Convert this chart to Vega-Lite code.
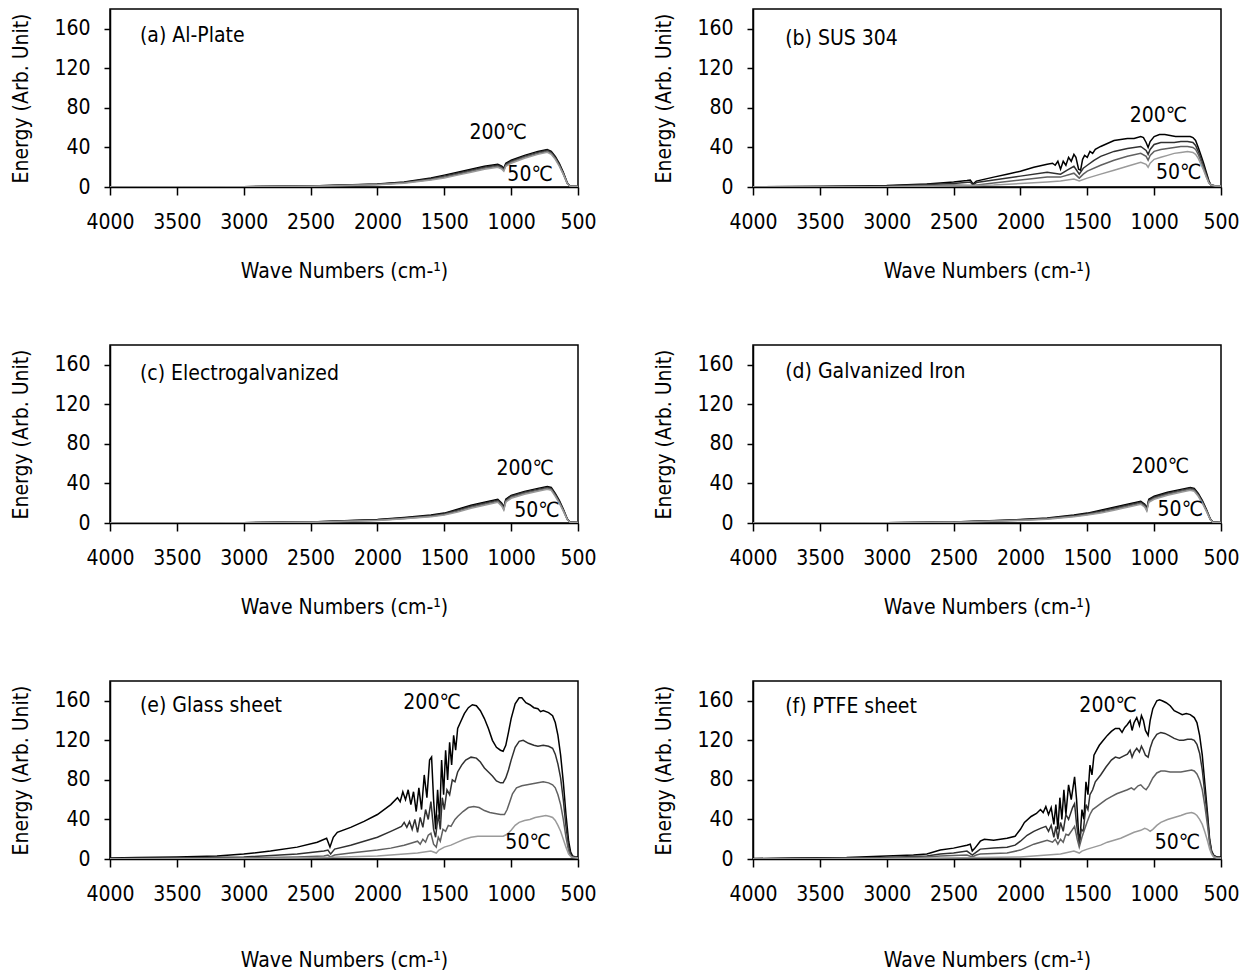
{
"$schema": "https://vega.github.io/schema/vega-lite/v6.json",
"background": "white",
"padding": {"left": 10, "top": 8, "right": 5, "bottom": 5},
"data": {"values": [
{"p":"a","kind":"title","lab":"(a) Al-Plate","w":3776,"e":153},
{"p":"a","kind":"temp","lab":"200℃","w":1098,"e":55},
{"p":"a","kind":"temp","lab":"50℃","w":859,"e":12},
{"p":"b","kind":"title","lab":"(b) SUS 304","w":3759,"e":150},
{"p":"b","kind":"temp","lab":"200℃","w":968,"e":72},
{"p":"b","kind":"temp","lab":"50℃","w":817,"e":14},
{"p":"c","kind":"title","lab":"(c) Electrogalvanized","w":3776,"e":151},
{"p":"c","kind":"temp","lab":"200℃","w":896,"e":55},
{"p":"c","kind":"temp","lab":"50℃","w":807,"e":12},
{"p":"d","kind":"title","lab":"(d) Galvanized Iron","w":3759,"e":153},
{"p":"d","kind":"temp","lab":"200℃","w":953,"e":57},
{"p":"d","kind":"temp","lab":"50℃","w":805,"e":13},
{"p":"e","kind":"title","lab":"(e) Glass sheet","w":3776,"e":155},
{"p":"e","kind":"temp","lab":"200℃","w":1592,"e":158},
{"p":"e","kind":"temp","lab":"50℃","w":874,"e":16},
{"p":"f","kind":"title","lab":"(f) PTFE sheet","w":3759,"e":154},
{"p":"f","kind":"temp","lab":"200℃","w":1345,"e":155},
{"p":"f","kind":"temp","lab":"50℃","w":826,"e":16},

{"p":"a","t":"200","w":4000,"e":0},{"p":"a","t":"200","w":3000,"e":0.3},{"p":"a","t":"200","w":2500,"e":1},{"p":"a","t":"200","w":2000,"e":3},{"p":"a","t":"200","w":1800,"e":5},{"p":"a","t":"200","w":1600,"e":9},{"p":"a","t":"200","w":1500,"e":12},{"p":"a","t":"200","w":1400,"e":15},{"p":"a","t":"200","w":1300,"e":18},{"p":"a","t":"200","w":1200,"e":21},{"p":"a","t":"200","w":1100,"e":23},{"p":"a","t":"200","w":1070,"e":21},{"p":"a","t":"200","w":1055,"e":19},{"p":"a","t":"200","w":1040,"e":24},{"p":"a","t":"200","w":1000,"e":27},{"p":"a","t":"200","w":900,"e":32},{"p":"a","t":"200","w":800,"e":36},{"p":"a","t":"200","w":730,"e":38},{"p":"a","t":"200","w":700,"e":36},{"p":"a","t":"200","w":670,"e":31},{"p":"a","t":"200","w":640,"e":24},{"p":"a","t":"200","w":610,"e":15},{"p":"a","t":"200","w":580,"e":4},{"p":"a","t":"200","w":560,"e":1},{"p":"a","t":"200","w":500,"e":0.5},
{"p":"a","t":"150","w":4000,"e":0},{"p":"a","t":"150","w":3000,"e":0.3},{"p":"a","t":"150","w":2500,"e":0.9},{"p":"a","t":"150","w":2000,"e":2.8},{"p":"a","t":"150","w":1800,"e":4.6},{"p":"a","t":"150","w":1600,"e":8.3},{"p":"a","t":"150","w":1500,"e":11},{"p":"a","t":"150","w":1400,"e":14},{"p":"a","t":"150","w":1300,"e":17},{"p":"a","t":"150","w":1200,"e":20},{"p":"a","t":"150","w":1100,"e":22},{"p":"a","t":"150","w":1070,"e":20},{"p":"a","t":"150","w":1055,"e":18},{"p":"a","t":"150","w":1040,"e":23},{"p":"a","t":"150","w":1000,"e":26},{"p":"a","t":"150","w":900,"e":31},{"p":"a","t":"150","w":800,"e":35},{"p":"a","t":"150","w":730,"e":37},{"p":"a","t":"150","w":700,"e":35},{"p":"a","t":"150","w":670,"e":30},{"p":"a","t":"150","w":640,"e":23},{"p":"a","t":"150","w":610,"e":14},{"p":"a","t":"150","w":580,"e":4},{"p":"a","t":"150","w":560,"e":1},{"p":"a","t":"150","w":500,"e":0.5},
{"p":"a","t":"100","w":4000,"e":0},{"p":"a","t":"100","w":3000,"e":0.2},{"p":"a","t":"100","w":2500,"e":0.8},{"p":"a","t":"100","w":2000,"e":2.5},{"p":"a","t":"100","w":1800,"e":4.2},{"p":"a","t":"100","w":1600,"e":7.6},{"p":"a","t":"100","w":1500,"e":10},{"p":"a","t":"100","w":1400,"e":13},{"p":"a","t":"100","w":1300,"e":16},{"p":"a","t":"100","w":1200,"e":19},{"p":"a","t":"100","w":1100,"e":21},{"p":"a","t":"100","w":1070,"e":19},{"p":"a","t":"100","w":1055,"e":17},{"p":"a","t":"100","w":1040,"e":22},{"p":"a","t":"100","w":1000,"e":25},{"p":"a","t":"100","w":900,"e":30},{"p":"a","t":"100","w":800,"e":34},{"p":"a","t":"100","w":730,"e":36},{"p":"a","t":"100","w":700,"e":34},{"p":"a","t":"100","w":670,"e":29},{"p":"a","t":"100","w":640,"e":22},{"p":"a","t":"100","w":610,"e":13},{"p":"a","t":"100","w":580,"e":3.5},{"p":"a","t":"100","w":560,"e":1},{"p":"a","t":"100","w":500,"e":0.4},
{"p":"a","t":"50","w":4000,"e":0},{"p":"a","t":"50","w":3000,"e":0.2},{"p":"a","t":"50","w":2500,"e":0.7},{"p":"a","t":"50","w":2000,"e":2.2},{"p":"a","t":"50","w":1800,"e":3.8},{"p":"a","t":"50","w":1600,"e":7},{"p":"a","t":"50","w":1500,"e":9.2},{"p":"a","t":"50","w":1400,"e":12},{"p":"a","t":"50","w":1300,"e":15},{"p":"a","t":"50","w":1200,"e":18},{"p":"a","t":"50","w":1100,"e":20},{"p":"a","t":"50","w":1070,"e":18},{"p":"a","t":"50","w":1055,"e":16},{"p":"a","t":"50","w":1040,"e":21},{"p":"a","t":"50","w":1000,"e":24},{"p":"a","t":"50","w":900,"e":29},{"p":"a","t":"50","w":800,"e":33},{"p":"a","t":"50","w":730,"e":35},{"p":"a","t":"50","w":700,"e":33},{"p":"a","t":"50","w":670,"e":28},{"p":"a","t":"50","w":640,"e":21},{"p":"a","t":"50","w":610,"e":13},{"p":"a","t":"50","w":580,"e":3.5},{"p":"a","t":"50","w":560,"e":0.9},{"p":"a","t":"50","w":500,"e":0.4},

{"p":"c","t":"200","w":4000,"e":0},{"p":"c","t":"200","w":3000,"e":0.3},{"p":"c","t":"200","w":2500,"e":1},{"p":"c","t":"200","w":2000,"e":3.5},{"p":"c","t":"200","w":1800,"e":5.5},{"p":"c","t":"200","w":1600,"e":8},{"p":"c","t":"200","w":1500,"e":10},{"p":"c","t":"200","w":1400,"e":14},{"p":"c","t":"200","w":1300,"e":18},{"p":"c","t":"200","w":1200,"e":21},{"p":"c","t":"200","w":1100,"e":24},{"p":"c","t":"200","w":1070,"e":20},{"p":"c","t":"200","w":1055,"e":16},{"p":"c","t":"200","w":1040,"e":24},{"p":"c","t":"200","w":1000,"e":28},{"p":"c","t":"200","w":900,"e":32},{"p":"c","t":"200","w":800,"e":35},{"p":"c","t":"200","w":730,"e":37},{"p":"c","t":"200","w":700,"e":36},{"p":"c","t":"200","w":670,"e":30},{"p":"c","t":"200","w":640,"e":23},{"p":"c","t":"200","w":610,"e":14},{"p":"c","t":"200","w":580,"e":4},{"p":"c","t":"200","w":560,"e":1},{"p":"c","t":"200","w":500,"e":0.5},
{"p":"c","t":"150","w":4000,"e":0},{"p":"c","t":"150","w":3000,"e":0.3},{"p":"c","t":"150","w":2500,"e":0.9},{"p":"c","t":"150","w":2000,"e":3.2},{"p":"c","t":"150","w":1800,"e":5},{"p":"c","t":"150","w":1600,"e":7.4},{"p":"c","t":"150","w":1500,"e":9.3},{"p":"c","t":"150","w":1400,"e":13},{"p":"c","t":"150","w":1300,"e":17},{"p":"c","t":"150","w":1200,"e":20},{"p":"c","t":"150","w":1100,"e":23},{"p":"c","t":"150","w":1070,"e":19},{"p":"c","t":"150","w":1055,"e":15},{"p":"c","t":"150","w":1040,"e":23},{"p":"c","t":"150","w":1000,"e":27},{"p":"c","t":"150","w":900,"e":31},{"p":"c","t":"150","w":800,"e":34},{"p":"c","t":"150","w":730,"e":36},{"p":"c","t":"150","w":700,"e":35},{"p":"c","t":"150","w":670,"e":29},{"p":"c","t":"150","w":640,"e":22},{"p":"c","t":"150","w":610,"e":13},{"p":"c","t":"150","w":580,"e":4},{"p":"c","t":"150","w":560,"e":1},{"p":"c","t":"150","w":500,"e":0.5},
{"p":"c","t":"100","w":4000,"e":0},{"p":"c","t":"100","w":3000,"e":0.2},{"p":"c","t":"100","w":2500,"e":0.8},{"p":"c","t":"100","w":2000,"e":2.9},{"p":"c","t":"100","w":1800,"e":4.6},{"p":"c","t":"100","w":1600,"e":6.8},{"p":"c","t":"100","w":1500,"e":8.6},{"p":"c","t":"100","w":1400,"e":12},{"p":"c","t":"100","w":1300,"e":16},{"p":"c","t":"100","w":1200,"e":19},{"p":"c","t":"100","w":1100,"e":22},{"p":"c","t":"100","w":1070,"e":18},{"p":"c","t":"100","w":1055,"e":14},{"p":"c","t":"100","w":1040,"e":22},{"p":"c","t":"100","w":1000,"e":26},{"p":"c","t":"100","w":900,"e":30},{"p":"c","t":"100","w":800,"e":33},{"p":"c","t":"100","w":730,"e":35},{"p":"c","t":"100","w":700,"e":34},{"p":"c","t":"100","w":670,"e":28},{"p":"c","t":"100","w":640,"e":21},{"p":"c","t":"100","w":610,"e":13},{"p":"c","t":"100","w":580,"e":3.5},{"p":"c","t":"100","w":560,"e":0.9},{"p":"c","t":"100","w":500,"e":0.4},
{"p":"c","t":"50","w":4000,"e":0},{"p":"c","t":"50","w":3000,"e":0.2},{"p":"c","t":"50","w":2500,"e":0.7},{"p":"c","t":"50","w":2000,"e":2.6},{"p":"c","t":"50","w":1800,"e":4.2},{"p":"c","t":"50","w":1600,"e":6.2},{"p":"c","t":"50","w":1500,"e":8},{"p":"c","t":"50","w":1400,"e":11},{"p":"c","t":"50","w":1300,"e":15},{"p":"c","t":"50","w":1200,"e":18},{"p":"c","t":"50","w":1100,"e":21},{"p":"c","t":"50","w":1070,"e":17},{"p":"c","t":"50","w":1055,"e":13},{"p":"c","t":"50","w":1040,"e":21},{"p":"c","t":"50","w":1000,"e":25},{"p":"c","t":"50","w":900,"e":29},{"p":"c","t":"50","w":800,"e":32},{"p":"c","t":"50","w":730,"e":34},{"p":"c","t":"50","w":700,"e":33},{"p":"c","t":"50","w":670,"e":27},{"p":"c","t":"50","w":640,"e":20},{"p":"c","t":"50","w":610,"e":12},{"p":"c","t":"50","w":580,"e":3.5},{"p":"c","t":"50","w":560,"e":0.8},{"p":"c","t":"50","w":500,"e":0.4},

{"p":"d","t":"200","w":4000,"e":0},{"p":"d","t":"200","w":3000,"e":0.3},{"p":"d","t":"200","w":2500,"e":1},{"p":"d","t":"200","w":2000,"e":3.5},{"p":"d","t":"200","w":1800,"e":5},{"p":"d","t":"200","w":1600,"e":8},{"p":"d","t":"200","w":1500,"e":10},{"p":"d","t":"200","w":1400,"e":13},{"p":"d","t":"200","w":1300,"e":16},{"p":"d","t":"200","w":1200,"e":19},{"p":"d","t":"200","w":1100,"e":22},{"p":"d","t":"200","w":1070,"e":19},{"p":"d","t":"200","w":1055,"e":15},{"p":"d","t":"200","w":1040,"e":24},{"p":"d","t":"200","w":1000,"e":27},{"p":"d","t":"200","w":900,"e":31},{"p":"d","t":"200","w":800,"e":34},{"p":"d","t":"200","w":730,"e":36},{"p":"d","t":"200","w":700,"e":35},{"p":"d","t":"200","w":670,"e":30},{"p":"d","t":"200","w":640,"e":23},{"p":"d","t":"200","w":610,"e":14},{"p":"d","t":"200","w":580,"e":4},{"p":"d","t":"200","w":560,"e":1},{"p":"d","t":"200","w":500,"e":0.5},
{"p":"d","t":"150","w":4000,"e":0},{"p":"d","t":"150","w":3000,"e":0.3},{"p":"d","t":"150","w":2500,"e":0.9},{"p":"d","t":"150","w":2000,"e":3.2},{"p":"d","t":"150","w":1800,"e":4.6},{"p":"d","t":"150","w":1600,"e":7.4},{"p":"d","t":"150","w":1500,"e":9.3},{"p":"d","t":"150","w":1400,"e":12},{"p":"d","t":"150","w":1300,"e":15},{"p":"d","t":"150","w":1200,"e":18},{"p":"d","t":"150","w":1100,"e":21},{"p":"d","t":"150","w":1070,"e":18},{"p":"d","t":"150","w":1055,"e":14},{"p":"d","t":"150","w":1040,"e":23},{"p":"d","t":"150","w":1000,"e":26},{"p":"d","t":"150","w":900,"e":30},{"p":"d","t":"150","w":800,"e":33},{"p":"d","t":"150","w":730,"e":35},{"p":"d","t":"150","w":700,"e":34},{"p":"d","t":"150","w":670,"e":29},{"p":"d","t":"150","w":640,"e":22},{"p":"d","t":"150","w":610,"e":13},{"p":"d","t":"150","w":580,"e":4},{"p":"d","t":"150","w":560,"e":1},{"p":"d","t":"150","w":500,"e":0.5},
{"p":"d","t":"100","w":4000,"e":0},{"p":"d","t":"100","w":3000,"e":0.2},{"p":"d","t":"100","w":2500,"e":0.8},{"p":"d","t":"100","w":2000,"e":2.9},{"p":"d","t":"100","w":1800,"e":4.2},{"p":"d","t":"100","w":1600,"e":6.8},{"p":"d","t":"100","w":1500,"e":8.6},{"p":"d","t":"100","w":1400,"e":11},{"p":"d","t":"100","w":1300,"e":14},{"p":"d","t":"100","w":1200,"e":17},{"p":"d","t":"100","w":1100,"e":20},{"p":"d","t":"100","w":1070,"e":17},{"p":"d","t":"100","w":1055,"e":13},{"p":"d","t":"100","w":1040,"e":22},{"p":"d","t":"100","w":1000,"e":25},{"p":"d","t":"100","w":900,"e":29},{"p":"d","t":"100","w":800,"e":32},{"p":"d","t":"100","w":730,"e":34},{"p":"d","t":"100","w":700,"e":33},{"p":"d","t":"100","w":670,"e":28},{"p":"d","t":"100","w":640,"e":21},{"p":"d","t":"100","w":610,"e":13},{"p":"d","t":"100","w":580,"e":3.5},{"p":"d","t":"100","w":560,"e":0.9},{"p":"d","t":"100","w":500,"e":0.4},
{"p":"d","t":"50","w":4000,"e":0},{"p":"d","t":"50","w":3000,"e":0.2},{"p":"d","t":"50","w":2500,"e":0.7},{"p":"d","t":"50","w":2000,"e":2.6},{"p":"d","t":"50","w":1800,"e":3.8},{"p":"d","t":"50","w":1600,"e":6.2},{"p":"d","t":"50","w":1500,"e":8},{"p":"d","t":"50","w":1400,"e":10},{"p":"d","t":"50","w":1300,"e":13},{"p":"d","t":"50","w":1200,"e":16},{"p":"d","t":"50","w":1100,"e":19},{"p":"d","t":"50","w":1070,"e":16},{"p":"d","t":"50","w":1055,"e":12},{"p":"d","t":"50","w":1040,"e":21},{"p":"d","t":"50","w":1000,"e":24},{"p":"d","t":"50","w":900,"e":28},{"p":"d","t":"50","w":800,"e":31},{"p":"d","t":"50","w":730,"e":33},{"p":"d","t":"50","w":700,"e":32},{"p":"d","t":"50","w":670,"e":27},{"p":"d","t":"50","w":640,"e":20},{"p":"d","t":"50","w":610,"e":12},{"p":"d","t":"50","w":580,"e":3.5},{"p":"d","t":"50","w":560,"e":0.8},{"p":"d","t":"50","w":500,"e":0.4},

{"p":"b","t":"200","w":4000,"e":0.2},{"p":"b","t":"200","w":3500,"e":0.5},{"p":"b","t":"200","w":3000,"e":1.5},{"p":"b","t":"200","w":2700,"e":3},{"p":"b","t":"200","w":2500,"e":5},{"p":"b","t":"200","w":2400,"e":6.5},{"p":"b","t":"200","w":2375,"e":7},{"p":"b","t":"200","w":2355,"e":3},{"p":"b","t":"200","w":2330,"e":6},{"p":"b","t":"200","w":2200,"e":10},{"p":"b","t":"200","w":2100,"e":13},{"p":"b","t":"200","w":2000,"e":16},{"p":"b","t":"200","w":1900,"e":20},{"p":"b","t":"200","w":1800,"e":23},{"p":"b","t":"200","w":1760,"e":24},{"p":"b","t":"200","w":1740,"e":22},{"p":"b","t":"200","w":1720,"e":26},{"p":"b","t":"200","w":1700,"e":18},{"p":"b","t":"200","w":1680,"e":26},{"p":"b","t":"200","w":1660,"e":22},{"p":"b","t":"200","w":1640,"e":30},{"p":"b","t":"200","w":1620,"e":26},{"p":"b","t":"200","w":1600,"e":33},{"p":"b","t":"200","w":1585,"e":30},{"p":"b","t":"200","w":1565,"e":18},{"p":"b","t":"200","w":1550,"e":17},{"p":"b","t":"200","w":1535,"e":28},{"p":"b","t":"200","w":1520,"e":32},{"p":"b","t":"200","w":1500,"e":30},{"p":"b","t":"200","w":1480,"e":36},{"p":"b","t":"200","w":1460,"e":34},{"p":"b","t":"200","w":1440,"e":38},{"p":"b","t":"200","w":1400,"e":41},{"p":"b","t":"200","w":1350,"e":44},{"p":"b","t":"200","w":1300,"e":47},{"p":"b","t":"200","w":1250,"e":48},{"p":"b","t":"200","w":1200,"e":49},{"p":"b","t":"200","w":1150,"e":49},{"p":"b","t":"200","w":1100,"e":51},{"p":"b","t":"200","w":1080,"e":50},{"p":"b","t":"200","w":1060,"e":45},{"p":"b","t":"200","w":1045,"e":40},{"p":"b","t":"200","w":1030,"e":46},{"p":"b","t":"200","w":1000,"e":51},{"p":"b","t":"200","w":960,"e":53},{"p":"b","t":"200","w":920,"e":53},{"p":"b","t":"200","w":880,"e":52},{"p":"b","t":"200","w":840,"e":51},{"p":"b","t":"200","w":800,"e":51},{"p":"b","t":"200","w":760,"e":51},{"p":"b","t":"200","w":730,"e":51},{"p":"b","t":"200","w":710,"e":50},{"p":"b","t":"200","w":690,"e":47},{"p":"b","t":"200","w":670,"e":40},{"p":"b","t":"200","w":650,"e":32},{"p":"b","t":"200","w":630,"e":24},{"p":"b","t":"200","w":610,"e":15},{"p":"b","t":"200","w":590,"e":6},{"p":"b","t":"200","w":575,"e":2},{"p":"b","t":"200","w":540,"e":1},{"p":"b","t":"200","w":500,"e":1},
{"p":"b","t":"150","w":4000,"e":0.1},{"p":"b","t":"150","w":3000,"e":1},{"p":"b","t":"150","w":2500,"e":3.5},{"p":"b","t":"150","w":2375,"e":5},{"p":"b","t":"150","w":2355,"e":2},{"p":"b","t":"150","w":2330,"e":4.5},{"p":"b","t":"150","w":2200,"e":7},{"p":"b","t":"150","w":2000,"e":11},{"p":"b","t":"150","w":1800,"e":15},{"p":"b","t":"150","w":1700,"e":13},{"p":"b","t":"150","w":1650,"e":17},{"p":"b","t":"150","w":1600,"e":21},{"p":"b","t":"150","w":1560,"e":13},{"p":"b","t":"150","w":1530,"e":19},{"p":"b","t":"150","w":1500,"e":22},{"p":"b","t":"150","w":1450,"e":27},{"p":"b","t":"150","w":1400,"e":31},{"p":"b","t":"150","w":1300,"e":36},{"p":"b","t":"150","w":1200,"e":39},{"p":"b","t":"150","w":1100,"e":41},{"p":"b","t":"150","w":1060,"e":37},{"p":"b","t":"150","w":1045,"e":33},{"p":"b","t":"150","w":1030,"e":38},{"p":"b","t":"150","w":1000,"e":43},{"p":"b","t":"150","w":950,"e":45},{"p":"b","t":"150","w":900,"e":45},{"p":"b","t":"150","w":850,"e":45},{"p":"b","t":"150","w":800,"e":46},{"p":"b","t":"150","w":750,"e":46},{"p":"b","t":"150","w":710,"e":45},{"p":"b","t":"150","w":690,"e":42},{"p":"b","t":"150","w":670,"e":36},{"p":"b","t":"150","w":650,"e":29},{"p":"b","t":"150","w":630,"e":21},{"p":"b","t":"150","w":610,"e":13},{"p":"b","t":"150","w":590,"e":5},{"p":"b","t":"150","w":575,"e":2},{"p":"b","t":"150","w":540,"e":1},{"p":"b","t":"150","w":500,"e":1},
{"p":"b","t":"100","w":4000,"e":0.1},{"p":"b","t":"100","w":3000,"e":0.5},{"p":"b","t":"100","w":2500,"e":2},{"p":"b","t":"100","w":2355,"e":1.5},{"p":"b","t":"100","w":2200,"e":4},{"p":"b","t":"100","w":2000,"e":7},{"p":"b","t":"100","w":1800,"e":10},{"p":"b","t":"100","w":1700,"e":10},{"p":"b","t":"100","w":1600,"e":14},{"p":"b","t":"100","w":1560,"e":9},{"p":"b","t":"100","w":1530,"e":13},{"p":"b","t":"100","w":1500,"e":16},{"p":"b","t":"100","w":1400,"e":22},{"p":"b","t":"100","w":1300,"e":27},{"p":"b","t":"100","w":1200,"e":31},{"p":"b","t":"100","w":1100,"e":34},{"p":"b","t":"100","w":1060,"e":31},{"p":"b","t":"100","w":1045,"e":27},{"p":"b","t":"100","w":1030,"e":32},{"p":"b","t":"100","w":1000,"e":36},{"p":"b","t":"100","w":950,"e":38},{"p":"b","t":"100","w":900,"e":39},{"p":"b","t":"100","w":850,"e":40},{"p":"b","t":"100","w":800,"e":41},{"p":"b","t":"100","w":750,"e":41},{"p":"b","t":"100","w":710,"e":40},{"p":"b","t":"100","w":690,"e":38},{"p":"b","t":"100","w":670,"e":33},{"p":"b","t":"100","w":650,"e":26},{"p":"b","t":"100","w":630,"e":19},{"p":"b","t":"100","w":610,"e":11},{"p":"b","t":"100","w":590,"e":4},{"p":"b","t":"100","w":575,"e":2},{"p":"b","t":"100","w":540,"e":1},{"p":"b","t":"100","w":500,"e":1},
{"p":"b","t":"50","w":4000,"e":0},{"p":"b","t":"50","w":3000,"e":0.3},{"p":"b","t":"50","w":2500,"e":1},{"p":"b","t":"50","w":2200,"e":2},{"p":"b","t":"50","w":2000,"e":3.5},{"p":"b","t":"50","w":1800,"e":5},{"p":"b","t":"50","w":1700,"e":6},{"p":"b","t":"50","w":1600,"e":8},{"p":"b","t":"50","w":1560,"e":6},{"p":"b","t":"50","w":1500,"e":9},{"p":"b","t":"50","w":1400,"e":13},{"p":"b","t":"50","w":1300,"e":17},{"p":"b","t":"50","w":1200,"e":21},{"p":"b","t":"50","w":1100,"e":25},{"p":"b","t":"50","w":1060,"e":23},{"p":"b","t":"50","w":1045,"e":20},{"p":"b","t":"50","w":1030,"e":24},{"p":"b","t":"50","w":1000,"e":28},{"p":"b","t":"50","w":950,"e":30},{"p":"b","t":"50","w":900,"e":32},{"p":"b","t":"50","w":850,"e":34},{"p":"b","t":"50","w":800,"e":35},{"p":"b","t":"50","w":750,"e":36},{"p":"b","t":"50","w":710,"e":35},{"p":"b","t":"50","w":690,"e":33},{"p":"b","t":"50","w":670,"e":29},{"p":"b","t":"50","w":650,"e":23},{"p":"b","t":"50","w":630,"e":17},{"p":"b","t":"50","w":610,"e":10},{"p":"b","t":"50","w":590,"e":4},{"p":"b","t":"50","w":575,"e":2},{"p":"b","t":"50","w":540,"e":1},{"p":"b","t":"50","w":500,"e":1},

{"p":"e","t":"200","w":4000,"e":1},{"p":"e","t":"200","w":3800,"e":1.5},{"p":"e","t":"200","w":3500,"e":2},{"p":"e","t":"200","w":3200,"e":3},{"p":"e","t":"200","w":3000,"e":5},{"p":"e","t":"200","w":2800,"e":8},{"p":"e","t":"200","w":2600,"e":12},{"p":"e","t":"200","w":2450,"e":17},{"p":"e","t":"200","w":2380,"e":21},{"p":"e","t":"200","w":2355,"e":12},{"p":"e","t":"200","w":2330,"e":22},{"p":"e","t":"200","w":2300,"e":27},{"p":"e","t":"200","w":2200,"e":32},{"p":"e","t":"200","w":2100,"e":38},{"p":"e","t":"200","w":2000,"e":45},{"p":"e","t":"200","w":1900,"e":55},{"p":"e","t":"200","w":1850,"e":62},{"p":"e","t":"200","w":1830,"e":58},{"p":"e","t":"200","w":1810,"e":68},{"p":"e","t":"200","w":1790,"e":60},{"p":"e","t":"200","w":1770,"e":70},{"p":"e","t":"200","w":1750,"e":55},{"p":"e","t":"200","w":1730,"e":68},{"p":"e","t":"200","w":1710,"e":48},{"p":"e","t":"200","w":1690,"e":72},{"p":"e","t":"200","w":1670,"e":50},{"p":"e","t":"200","w":1650,"e":85},{"p":"e","t":"200","w":1630,"e":62},{"p":"e","t":"200","w":1610,"e":100},{"p":"e","t":"200","w":1595,"e":103},{"p":"e","t":"200","w":1580,"e":60},{"p":"e","t":"200","w":1565,"e":30},{"p":"e","t":"200","w":1550,"e":70},{"p":"e","t":"200","w":1535,"e":40},{"p":"e","t":"200","w":1520,"e":100},{"p":"e","t":"200","w":1505,"e":65},{"p":"e","t":"200","w":1490,"e":110},{"p":"e","t":"200","w":1475,"e":80},{"p":"e","t":"200","w":1460,"e":118},{"p":"e","t":"200","w":1445,"e":95},{"p":"e","t":"200","w":1430,"e":125},{"p":"e","t":"200","w":1415,"e":110},{"p":"e","t":"200","w":1400,"e":132},{"p":"e","t":"200","w":1380,"e":138},{"p":"e","t":"200","w":1350,"e":147},{"p":"e","t":"200","w":1320,"e":153},{"p":"e","t":"200","w":1290,"e":156},{"p":"e","t":"200","w":1260,"e":155},{"p":"e","t":"200","w":1230,"e":150},{"p":"e","t":"200","w":1200,"e":142},{"p":"e","t":"200","w":1170,"e":132},{"p":"e","t":"200","w":1140,"e":120},{"p":"e","t":"200","w":1110,"e":113},{"p":"e","t":"200","w":1080,"e":110},{"p":"e","t":"200","w":1060,"e":109},{"p":"e","t":"200","w":1040,"e":115},{"p":"e","t":"200","w":1020,"e":128},{"p":"e","t":"200","w":1000,"e":142},{"p":"e","t":"200","w":970,"e":157},{"p":"e","t":"200","w":940,"e":163},{"p":"e","t":"200","w":920,"e":163},{"p":"e","t":"200","w":890,"e":158},{"p":"e","t":"200","w":860,"e":156},{"p":"e","t":"200","w":830,"e":153},{"p":"e","t":"200","w":800,"e":152},{"p":"e","t":"200","w":780,"e":149},{"p":"e","t":"200","w":760,"e":150},{"p":"e","t":"200","w":720,"e":148},{"p":"e","t":"200","w":690,"e":145},{"p":"e","t":"200","w":670,"e":138},{"p":"e","t":"200","w":650,"e":125},{"p":"e","t":"200","w":630,"e":105},{"p":"e","t":"200","w":610,"e":78},{"p":"e","t":"200","w":590,"e":45},{"p":"e","t":"200","w":570,"e":18},{"p":"e","t":"200","w":555,"e":7},{"p":"e","t":"200","w":540,"e":3},{"p":"e","t":"200","w":520,"e":2},{"p":"e","t":"200","w":500,"e":2},
{"p":"e","t":"150","w":4000,"e":0.5},{"p":"e","t":"150","w":3500,"e":1},{"p":"e","t":"150","w":3000,"e":2},{"p":"e","t":"150","w":2600,"e":5},{"p":"e","t":"150","w":2400,"e":8},{"p":"e","t":"150","w":2370,"e":9},{"p":"e","t":"150","w":2350,"e":5},{"p":"e","t":"150","w":2320,"e":10},{"p":"e","t":"150","w":2200,"e":14},{"p":"e","t":"150","w":2100,"e":18},{"p":"e","t":"150","w":2000,"e":22},{"p":"e","t":"150","w":1900,"e":28},{"p":"e","t":"150","w":1820,"e":33},{"p":"e","t":"150","w":1800,"e":37},{"p":"e","t":"150","w":1780,"e":32},{"p":"e","t":"150","w":1760,"e":38},{"p":"e","t":"150","w":1740,"e":30},{"p":"e","t":"150","w":1720,"e":40},{"p":"e","t":"150","w":1700,"e":27},{"p":"e","t":"150","w":1680,"e":42},{"p":"e","t":"150","w":1660,"e":32},{"p":"e","t":"150","w":1640,"e":50},{"p":"e","t":"150","w":1620,"e":40},{"p":"e","t":"150","w":1600,"e":58},{"p":"e","t":"150","w":1580,"e":30},{"p":"e","t":"150","w":1565,"e":22},{"p":"e","t":"150","w":1545,"e":45},{"p":"e","t":"150","w":1530,"e":30},{"p":"e","t":"150","w":1515,"e":62},{"p":"e","t":"150","w":1500,"e":50},{"p":"e","t":"150","w":1480,"e":70},{"p":"e","t":"150","w":1460,"e":65},{"p":"e","t":"150","w":1440,"e":80},{"p":"e","t":"150","w":1420,"e":78},{"p":"e","t":"150","w":1400,"e":88},{"p":"e","t":"150","w":1370,"e":95},{"p":"e","t":"150","w":1340,"e":100},{"p":"e","t":"150","w":1300,"e":103},{"p":"e","t":"150","w":1260,"e":102},{"p":"e","t":"150","w":1230,"e":98},{"p":"e","t":"150","w":1200,"e":92},{"p":"e","t":"150","w":1170,"e":88},{"p":"e","t":"150","w":1140,"e":84},{"p":"e","t":"150","w":1110,"e":79},{"p":"e","t":"150","w":1080,"e":77},{"p":"e","t":"150","w":1060,"e":77},{"p":"e","t":"150","w":1040,"e":82},{"p":"e","t":"150","w":1020,"e":90},{"p":"e","t":"150","w":1000,"e":100},{"p":"e","t":"150","w":970,"e":113},{"p":"e","t":"150","w":940,"e":119},{"p":"e","t":"150","w":910,"e":120},{"p":"e","t":"150","w":870,"e":117},{"p":"e","t":"150","w":830,"e":115},{"p":"e","t":"150","w":800,"e":114},{"p":"e","t":"150","w":760,"e":115},{"p":"e","t":"150","w":720,"e":114},{"p":"e","t":"150","w":690,"e":112},{"p":"e","t":"150","w":670,"e":106},{"p":"e","t":"150","w":650,"e":96},{"p":"e","t":"150","w":630,"e":82},{"p":"e","t":"150","w":610,"e":60},{"p":"e","t":"150","w":590,"e":33},{"p":"e","t":"150","w":570,"e":12},{"p":"e","t":"150","w":555,"e":5},{"p":"e","t":"150","w":540,"e":2},{"p":"e","t":"150","w":500,"e":1},
{"p":"e","t":"100","w":4000,"e":0.3},{"p":"e","t":"100","w":3500,"e":0.5},{"p":"e","t":"100","w":3000,"e":1},{"p":"e","t":"100","w":2600,"e":2},{"p":"e","t":"100","w":2400,"e":3},{"p":"e","t":"100","w":2370,"e":4},{"p":"e","t":"100","w":2350,"e":2},{"p":"e","t":"100","w":2320,"e":4},{"p":"e","t":"100","w":2200,"e":6},{"p":"e","t":"100","w":2000,"e":9},{"p":"e","t":"100","w":1900,"e":11},{"p":"e","t":"100","w":1800,"e":14},{"p":"e","t":"100","w":1750,"e":16},{"p":"e","t":"100","w":1700,"e":18},{"p":"e","t":"100","w":1680,"e":15},{"p":"e","t":"100","w":1660,"e":20},{"p":"e","t":"100","w":1640,"e":17},{"p":"e","t":"100","w":1620,"e":24},{"p":"e","t":"100","w":1600,"e":26},{"p":"e","t":"100","w":1580,"e":15},{"p":"e","t":"100","w":1560,"e":12},{"p":"e","t":"100","w":1545,"e":22},{"p":"e","t":"100","w":1530,"e":18},{"p":"e","t":"100","w":1510,"e":30},{"p":"e","t":"100","w":1490,"e":28},{"p":"e","t":"100","w":1470,"e":34},{"p":"e","t":"100","w":1450,"e":33},{"p":"e","t":"100","w":1420,"e":40},{"p":"e","t":"100","w":1400,"e":43},{"p":"e","t":"100","w":1360,"e":48},{"p":"e","t":"100","w":1320,"e":52},{"p":"e","t":"100","w":1280,"e":53},{"p":"e","t":"100","w":1240,"e":52},{"p":"e","t":"100","w":1200,"e":49},{"p":"e","t":"100","w":1160,"e":47},{"p":"e","t":"100","w":1120,"e":46},{"p":"e","t":"100","w":1080,"e":45},{"p":"e","t":"100","w":1050,"e":45},{"p":"e","t":"100","w":1030,"e":50},{"p":"e","t":"100","w":1010,"e":58},{"p":"e","t":"100","w":990,"e":66},{"p":"e","t":"100","w":960,"e":72},{"p":"e","t":"100","w":920,"e":74},{"p":"e","t":"100","w":880,"e":75},{"p":"e","t":"100","w":840,"e":76},{"p":"e","t":"100","w":800,"e":77},{"p":"e","t":"100","w":760,"e":78},{"p":"e","t":"100","w":720,"e":77},{"p":"e","t":"100","w":690,"e":75},{"p":"e","t":"100","w":670,"e":72},{"p":"e","t":"100","w":650,"e":65},{"p":"e","t":"100","w":630,"e":55},{"p":"e","t":"100","w":610,"e":40},{"p":"e","t":"100","w":590,"e":22},{"p":"e","t":"100","w":570,"e":8},{"p":"e","t":"100","w":555,"e":3},{"p":"e","t":"100","w":540,"e":1.5},{"p":"e","t":"100","w":500,"e":1},
{"p":"e","t":"50","w":4000,"e":0.2},{"p":"e","t":"50","w":3000,"e":0.5},{"p":"e","t":"50","w":2600,"e":1},{"p":"e","t":"50","w":2400,"e":1.5},{"p":"e","t":"50","w":2000,"e":3},{"p":"e","t":"50","w":1800,"e":5},{"p":"e","t":"50","w":1700,"e":6},{"p":"e","t":"50","w":1600,"e":8},{"p":"e","t":"50","w":1560,"e":6},{"p":"e","t":"50","w":1540,"e":9},{"p":"e","t":"50","w":1500,"e":12},{"p":"e","t":"50","w":1450,"e":14},{"p":"e","t":"50","w":1400,"e":17},{"p":"e","t":"50","w":1350,"e":20},{"p":"e","t":"50","w":1300,"e":22},{"p":"e","t":"50","w":1250,"e":23},{"p":"e","t":"50","w":1200,"e":23},{"p":"e","t":"50","w":1150,"e":23},{"p":"e","t":"50","w":1100,"e":23},{"p":"e","t":"50","w":1060,"e":23},{"p":"e","t":"50","w":1030,"e":25},{"p":"e","t":"50","w":1000,"e":29},{"p":"e","t":"50","w":970,"e":34},{"p":"e","t":"50","w":940,"e":37},{"p":"e","t":"50","w":900,"e":39},{"p":"e","t":"50","w":860,"e":40},{"p":"e","t":"50","w":820,"e":42},{"p":"e","t":"50","w":780,"e":43},{"p":"e","t":"50","w":740,"e":44},{"p":"e","t":"50","w":710,"e":43},{"p":"e","t":"50","w":690,"e":42},{"p":"e","t":"50","w":670,"e":39},{"p":"e","t":"50","w":650,"e":34},{"p":"e","t":"50","w":630,"e":28},{"p":"e","t":"50","w":610,"e":20},{"p":"e","t":"50","w":590,"e":12},{"p":"e","t":"50","w":570,"e":5},{"p":"e","t":"50","w":550,"e":2},{"p":"e","t":"50","w":500,"e":1},

{"p":"f","t":"200","w":4000,"e":0.5},{"p":"f","t":"200","w":3700,"e":1},{"p":"f","t":"200","w":3300,"e":1.5},{"p":"f","t":"200","w":3000,"e":3},{"p":"f","t":"200","w":2800,"e":4},{"p":"f","t":"200","w":2700,"e":5},{"p":"f","t":"200","w":2650,"e":7},{"p":"f","t":"200","w":2600,"e":9},{"p":"f","t":"200","w":2500,"e":11},{"p":"f","t":"200","w":2400,"e":14},{"p":"f","t":"200","w":2375,"e":15},{"p":"f","t":"200","w":2360,"e":8},{"p":"f","t":"200","w":2340,"e":11},{"p":"f","t":"200","w":2300,"e":18},{"p":"f","t":"200","w":2270,"e":20},{"p":"f","t":"200","w":2200,"e":19},{"p":"f","t":"200","w":2100,"e":21},{"p":"f","t":"200","w":2040,"e":23},{"p":"f","t":"200","w":2000,"e":30},{"p":"f","t":"200","w":1970,"e":37},{"p":"f","t":"200","w":1920,"e":43},{"p":"f","t":"200","w":1880,"e":46},{"p":"f","t":"200","w":1850,"e":50},{"p":"f","t":"200","w":1830,"e":47},{"p":"f","t":"200","w":1810,"e":53},{"p":"f","t":"200","w":1790,"e":45},{"p":"f","t":"200","w":1770,"e":52},{"p":"f","t":"200","w":1750,"e":35},{"p":"f","t":"200","w":1735,"e":55},{"p":"f","t":"200","w":1720,"e":30},{"p":"f","t":"200","w":1705,"e":62},{"p":"f","t":"200","w":1690,"e":40},{"p":"f","t":"200","w":1675,"e":70},{"p":"f","t":"200","w":1660,"e":45},{"p":"f","t":"200","w":1640,"e":75},{"p":"f","t":"200","w":1620,"e":60},{"p":"f","t":"200","w":1595,"e":83},{"p":"f","t":"200","w":1580,"e":60},{"p":"f","t":"200","w":1565,"e":25},{"p":"f","t":"200","w":1555,"e":19},{"p":"f","t":"200","w":1540,"e":50},{"p":"f","t":"200","w":1525,"e":40},{"p":"f","t":"200","w":1510,"e":78},{"p":"f","t":"200","w":1495,"e":65},{"p":"f","t":"200","w":1480,"e":95},{"p":"f","t":"200","w":1465,"e":85},{"p":"f","t":"200","w":1450,"e":105},{"p":"f","t":"200","w":1430,"e":110},{"p":"f","t":"200","w":1410,"e":115},{"p":"f","t":"200","w":1380,"e":120},{"p":"f","t":"200","w":1350,"e":125},{"p":"f","t":"200","w":1320,"e":129},{"p":"f","t":"200","w":1290,"e":132},{"p":"f","t":"200","w":1260,"e":132},{"p":"f","t":"200","w":1240,"e":128},{"p":"f","t":"200","w":1220,"e":133},{"p":"f","t":"200","w":1200,"e":136},{"p":"f","t":"200","w":1180,"e":140},{"p":"f","t":"200","w":1165,"e":130},{"p":"f","t":"200","w":1150,"e":138},{"p":"f","t":"200","w":1130,"e":143},{"p":"f","t":"200","w":1110,"e":135},{"p":"f","t":"200","w":1095,"e":145},{"p":"f","t":"200","w":1080,"e":140},{"p":"f","t":"200","w":1065,"e":130},{"p":"f","t":"200","w":1045,"e":125},{"p":"f","t":"200","w":1030,"e":140},{"p":"f","t":"200","w":1010,"e":152},{"p":"f","t":"200","w":980,"e":160},{"p":"f","t":"200","w":960,"e":161},{"p":"f","t":"200","w":940,"e":160},{"p":"f","t":"200","w":910,"e":158},{"p":"f","t":"200","w":880,"e":155},{"p":"f","t":"200","w":850,"e":150},{"p":"f","t":"200","w":820,"e":148},{"p":"f","t":"200","w":790,"e":146},{"p":"f","t":"200","w":760,"e":147},{"p":"f","t":"200","w":730,"e":146},{"p":"f","t":"200","w":700,"e":143},{"p":"f","t":"200","w":680,"e":138},{"p":"f","t":"200","w":660,"e":125},{"p":"f","t":"200","w":640,"e":105},{"p":"f","t":"200","w":620,"e":75},{"p":"f","t":"200","w":600,"e":45},{"p":"f","t":"200","w":585,"e":20},{"p":"f","t":"200","w":570,"e":8},{"p":"f","t":"200","w":555,"e":4},{"p":"f","t":"200","w":530,"e":2},{"p":"f","t":"200","w":500,"e":2},
{"p":"f","t":"150","w":4000,"e":0.3},{"p":"f","t":"150","w":3500,"e":0.7},{"p":"f","t":"150","w":3000,"e":1.5},{"p":"f","t":"150","w":2700,"e":3},{"p":"f","t":"150","w":2600,"e":5},{"p":"f","t":"150","w":2500,"e":6},{"p":"f","t":"150","w":2400,"e":8},{"p":"f","t":"150","w":2360,"e":4},{"p":"f","t":"150","w":2330,"e":7},{"p":"f","t":"150","w":2300,"e":10},{"p":"f","t":"150","w":2200,"e":11},{"p":"f","t":"150","w":2100,"e":12},{"p":"f","t":"150","w":2040,"e":14},{"p":"f","t":"150","w":2000,"e":18},{"p":"f","t":"150","w":1950,"e":24},{"p":"f","t":"150","w":1900,"e":28},{"p":"f","t":"150","w":1850,"e":31},{"p":"f","t":"150","w":1810,"e":33},{"p":"f","t":"150","w":1790,"e":28},{"p":"f","t":"150","w":1770,"e":34},{"p":"f","t":"150","w":1750,"e":22},{"p":"f","t":"150","w":1735,"e":33},{"p":"f","t":"150","w":1720,"e":20},{"p":"f","t":"150","w":1700,"e":37},{"p":"f","t":"150","w":1680,"e":28},{"p":"f","t":"150","w":1660,"e":45},{"p":"f","t":"150","w":1640,"e":40},{"p":"f","t":"150","w":1610,"e":52},{"p":"f","t":"150","w":1595,"e":56},{"p":"f","t":"150","w":1580,"e":35},{"p":"f","t":"150","w":1560,"e":15},{"p":"f","t":"150","w":1545,"e":30},{"p":"f","t":"150","w":1530,"e":28},{"p":"f","t":"150","w":1510,"e":55},{"p":"f","t":"150","w":1495,"e":50},{"p":"f","t":"150","w":1480,"e":65},{"p":"f","t":"150","w":1460,"e":70},{"p":"f","t":"150","w":1440,"e":78},{"p":"f","t":"150","w":1400,"e":85},{"p":"f","t":"150","w":1360,"e":93},{"p":"f","t":"150","w":1320,"e":100},{"p":"f","t":"150","w":1290,"e":103},{"p":"f","t":"150","w":1260,"e":102},{"p":"f","t":"150","w":1230,"e":104},{"p":"f","t":"150","w":1200,"e":106},{"p":"f","t":"150","w":1180,"e":110},{"p":"f","t":"150","w":1165,"e":103},{"p":"f","t":"150","w":1150,"e":108},{"p":"f","t":"150","w":1130,"e":112},{"p":"f","t":"150","w":1110,"e":108},{"p":"f","t":"150","w":1095,"e":114},{"p":"f","t":"150","w":1080,"e":110},{"p":"f","t":"150","w":1065,"e":105},{"p":"f","t":"150","w":1045,"e":103},{"p":"f","t":"150","w":1030,"e":112},{"p":"f","t":"150","w":1010,"e":120},{"p":"f","t":"150","w":980,"e":126},{"p":"f","t":"150","w":950,"e":128},{"p":"f","t":"150","w":920,"e":127},{"p":"f","t":"150","w":890,"e":125},{"p":"f","t":"150","w":850,"e":122},{"p":"f","t":"150","w":810,"e":120},{"p":"f","t":"150","w":780,"e":120},{"p":"f","t":"150","w":750,"e":121},{"p":"f","t":"150","w":720,"e":121},{"p":"f","t":"150","w":700,"e":120},{"p":"f","t":"150","w":680,"e":116},{"p":"f","t":"150","w":660,"e":107},{"p":"f","t":"150","w":640,"e":90},{"p":"f","t":"150","w":620,"e":65},{"p":"f","t":"150","w":600,"e":40},{"p":"f","t":"150","w":585,"e":18},{"p":"f","t":"150","w":570,"e":7},{"p":"f","t":"150","w":555,"e":3},{"p":"f","t":"150","w":530,"e":1.5},{"p":"f","t":"150","w":500,"e":1},
{"p":"f","t":"100","w":4000,"e":0.2},{"p":"f","t":"100","w":3500,"e":0.4},{"p":"f","t":"100","w":3000,"e":1},{"p":"f","t":"100","w":2700,"e":2},{"p":"f","t":"100","w":2600,"e":3},{"p":"f","t":"100","w":2400,"e":4},{"p":"f","t":"100","w":2360,"e":2},{"p":"f","t":"100","w":2330,"e":4},{"p":"f","t":"100","w":2300,"e":5},{"p":"f","t":"100","w":2100,"e":6},{"p":"f","t":"100","w":2000,"e":9},{"p":"f","t":"100","w":1950,"e":12},{"p":"f","t":"100","w":1900,"e":15},{"p":"f","t":"100","w":1850,"e":17},{"p":"f","t":"100","w":1800,"e":19},{"p":"f","t":"100","w":1760,"e":17},{"p":"f","t":"100","w":1740,"e":20},{"p":"f","t":"100","w":1720,"e":15},{"p":"f","t":"100","w":1700,"e":20},{"p":"f","t":"100","w":1680,"e":17},{"p":"f","t":"100","w":1660,"e":25},{"p":"f","t":"100","w":1640,"e":24},{"p":"f","t":"100","w":1610,"e":30},{"p":"f","t":"100","w":1595,"e":33},{"p":"f","t":"100","w":1575,"e":20},{"p":"f","t":"100","w":1560,"e":12},{"p":"f","t":"100","w":1540,"e":22},{"p":"f","t":"100","w":1520,"e":30},{"p":"f","t":"100","w":1500,"e":38},{"p":"f","t":"100","w":1480,"e":45},{"p":"f","t":"100","w":1460,"e":50},{"p":"f","t":"100","w":1440,"e":52},{"p":"f","t":"100","w":1400,"e":56},{"p":"f","t":"100","w":1360,"e":60},{"p":"f","t":"100","w":1320,"e":63},{"p":"f","t":"100","w":1280,"e":66},{"p":"f","t":"100","w":1240,"e":68},{"p":"f","t":"100","w":1200,"e":70},{"p":"f","t":"100","w":1170,"e":72},{"p":"f","t":"100","w":1150,"e":70},{"p":"f","t":"100","w":1120,"e":74},{"p":"f","t":"100","w":1100,"e":75},{"p":"f","t":"100","w":1080,"e":72},{"p":"f","t":"100","w":1060,"e":70},{"p":"f","t":"100","w":1040,"e":74},{"p":"f","t":"100","w":1010,"e":82},{"p":"f","t":"100","w":980,"e":87},{"p":"f","t":"100","w":950,"e":89},{"p":"f","t":"100","w":920,"e":89},{"p":"f","t":"100","w":880,"e":88},{"p":"f","t":"100","w":840,"e":88},{"p":"f","t":"100","w":800,"e":88},{"p":"f","t":"100","w":760,"e":89},{"p":"f","t":"100","w":720,"e":90},{"p":"f","t":"100","w":700,"e":89},{"p":"f","t":"100","w":680,"e":86},{"p":"f","t":"100","w":660,"e":80},{"p":"f","t":"100","w":640,"e":70},{"p":"f","t":"100","w":620,"e":53},{"p":"f","t":"100","w":600,"e":33},{"p":"f","t":"100","w":585,"e":16},{"p":"f","t":"100","w":570,"e":6},{"p":"f","t":"100","w":555,"e":3},{"p":"f","t":"100","w":530,"e":1},{"p":"f","t":"100","w":500,"e":1},
{"p":"f","t":"50","w":4000,"e":0.1},{"p":"f","t":"50","w":3000,"e":0.4},{"p":"f","t":"50","w":2600,"e":1},{"p":"f","t":"50","w":2300,"e":1.5},{"p":"f","t":"50","w":2000,"e":2},{"p":"f","t":"50","w":1900,"e":3},{"p":"f","t":"50","w":1800,"e":4},{"p":"f","t":"50","w":1700,"e":5},{"p":"f","t":"50","w":1600,"e":8},{"p":"f","t":"50","w":1560,"e":6},{"p":"f","t":"50","w":1540,"e":8},{"p":"f","t":"50","w":1500,"e":10},{"p":"f","t":"50","w":1450,"e":12},{"p":"f","t":"50","w":1400,"e":14},{"p":"f","t":"50","w":1350,"e":17},{"p":"f","t":"50","w":1300,"e":19},{"p":"f","t":"50","w":1250,"e":21},{"p":"f","t":"50","w":1200,"e":24},{"p":"f","t":"50","w":1150,"e":27},{"p":"f","t":"50","w":1100,"e":29},{"p":"f","t":"50","w":1070,"e":31},{"p":"f","t":"50","w":1050,"e":30},{"p":"f","t":"50","w":1030,"e":28},{"p":"f","t":"50","w":1010,"e":30},{"p":"f","t":"50","w":980,"e":34},{"p":"f","t":"50","w":950,"e":37},{"p":"f","t":"50","w":900,"e":40},{"p":"f","t":"50","w":850,"e":42},{"p":"f","t":"50","w":800,"e":44},{"p":"f","t":"50","w":760,"e":46},{"p":"f","t":"50","w":720,"e":47},{"p":"f","t":"50","w":700,"e":46},{"p":"f","t":"50","w":680,"e":44},{"p":"f","t":"50","w":660,"e":40},{"p":"f","t":"50","w":640,"e":35},{"p":"f","t":"50","w":620,"e":27},{"p":"f","t":"50","w":600,"e":18},{"p":"f","t":"50","w":585,"e":10},{"p":"f","t":"50","w":570,"e":5},{"p":"f","t":"50","w":555,"e":2},{"p":"f","t":"50","w":530,"e":1},{"p":"f","t":"50","w":500,"e":1}
]},
"columns": 2,
"spacing": {"row": 158, "column": 175},
"bounds": "flush",
"concat": [
 {"width": 468, "height": 178, "transform": [{"filter": "datum.p == 'a'"}],
  "encoding": {"x": {"field": "w", "type": "quantitative", "scale": {"domain": [500, 4000], "reverse": true, "nice": false, "zero": false}, "axis": {"values": [4000, 3500, 3000, 2500, 2000, 1500, 1000, 500], "title": "Wave Numbers (cm-¹)", "format": "d"}},
               "y": {"field": "e", "type": "quantitative", "scale": {"domain": [0, 180], "nice": false}, "axis": {"values": [0, 40, 80, 120, 160], "title": "Energy (Arb. Unit)"}}},
  "layer": [
   {"transform": [{"filter": "datum.t != null"}], "mark": {"type": "line", "strokeWidth": 1.5, "clip": true}, "encoding": {"color": {"field": "t", "type": "nominal", "scale": {"domain": ["200", "150", "100", "50"], "range": ["#000000", "#303030", "#606060", "#9a9a9a"]}, "legend": null}}},
   {"transform": [{"filter": "datum.kind == 'title'"}], "mark": {"type": "text", "align": "left", "baseline": "middle"}, "encoding": {"text": {"field": "lab"}}},
   {"transform": [{"filter": "datum.kind == 'temp'"}], "mark": {"type": "text", "align": "center", "baseline": "middle"}, "encoding": {"text": {"field": "lab"}}}
  ]},
 {"width": 468, "height": 178, "transform": [{"filter": "datum.p == 'b'"}],
  "encoding": {"x": {"field": "w", "type": "quantitative", "scale": {"domain": [500, 4000], "reverse": true, "nice": false, "zero": false}, "axis": {"values": [4000, 3500, 3000, 2500, 2000, 1500, 1000, 500], "title": "Wave Numbers (cm-¹)", "format": "d"}},
               "y": {"field": "e", "type": "quantitative", "scale": {"domain": [0, 180], "nice": false}, "axis": {"values": [0, 40, 80, 120, 160], "title": "Energy (Arb. Unit)"}}},
  "layer": [
   {"transform": [{"filter": "datum.t != null"}], "mark": {"type": "line", "strokeWidth": 1.5, "clip": true}, "encoding": {"color": {"field": "t", "type": "nominal", "scale": {"domain": ["200", "150", "100", "50"], "range": ["#000000", "#303030", "#606060", "#9a9a9a"]}, "legend": null}}},
   {"transform": [{"filter": "datum.kind == 'title'"}], "mark": {"type": "text", "align": "left", "baseline": "middle"}, "encoding": {"text": {"field": "lab"}}},
   {"transform": [{"filter": "datum.kind == 'temp'"}], "mark": {"type": "text", "align": "center", "baseline": "middle"}, "encoding": {"text": {"field": "lab"}}}
  ]},
 {"width": 468, "height": 178, "transform": [{"filter": "datum.p == 'c'"}],
  "encoding": {"x": {"field": "w", "type": "quantitative", "scale": {"domain": [500, 4000], "reverse": true, "nice": false, "zero": false}, "axis": {"values": [4000, 3500, 3000, 2500, 2000, 1500, 1000, 500], "title": "Wave Numbers (cm-¹)", "format": "d"}},
               "y": {"field": "e", "type": "quantitative", "scale": {"domain": [0, 180], "nice": false}, "axis": {"values": [0, 40, 80, 120, 160], "title": "Energy (Arb. Unit)"}}},
  "layer": [
   {"transform": [{"filter": "datum.t != null"}], "mark": {"type": "line", "strokeWidth": 1.5, "clip": true}, "encoding": {"color": {"field": "t", "type": "nominal", "scale": {"domain": ["200", "150", "100", "50"], "range": ["#000000", "#303030", "#606060", "#9a9a9a"]}, "legend": null}}},
   {"transform": [{"filter": "datum.kind == 'title'"}], "mark": {"type": "text", "align": "left", "baseline": "middle"}, "encoding": {"text": {"field": "lab"}}},
   {"transform": [{"filter": "datum.kind == 'temp'"}], "mark": {"type": "text", "align": "center", "baseline": "middle"}, "encoding": {"text": {"field": "lab"}}}
  ]},
 {"width": 468, "height": 178, "transform": [{"filter": "datum.p == 'd'"}],
  "encoding": {"x": {"field": "w", "type": "quantitative", "scale": {"domain": [500, 4000], "reverse": true, "nice": false, "zero": false}, "axis": {"values": [4000, 3500, 3000, 2500, 2000, 1500, 1000, 500], "title": "Wave Numbers (cm-¹)", "format": "d"}},
               "y": {"field": "e", "type": "quantitative", "scale": {"domain": [0, 180], "nice": false}, "axis": {"values": [0, 40, 80, 120, 160], "title": "Energy (Arb. Unit)"}}},
  "layer": [
   {"transform": [{"filter": "datum.t != null"}], "mark": {"type": "line", "strokeWidth": 1.5, "clip": true}, "encoding": {"color": {"field": "t", "type": "nominal", "scale": {"domain": ["200", "150", "100", "50"], "range": ["#000000", "#303030", "#606060", "#9a9a9a"]}, "legend": null}}},
   {"transform": [{"filter": "datum.kind == 'title'"}], "mark": {"type": "text", "align": "left", "baseline": "middle"}, "encoding": {"text": {"field": "lab"}}},
   {"transform": [{"filter": "datum.kind == 'temp'"}], "mark": {"type": "text", "align": "center", "baseline": "middle"}, "encoding": {"text": {"field": "lab"}}}
  ]},
 {"width": 468, "height": 178, "transform": [{"filter": "datum.p == 'e'"}],
  "encoding": {"x": {"field": "w", "type": "quantitative", "scale": {"domain": [500, 4000], "reverse": true, "nice": false, "zero": false}, "axis": {"values": [4000, 3500, 3000, 2500, 2000, 1500, 1000, 500], "title": "Wave Numbers (cm-¹)", "format": "d", "titlePadding": 45}},
               "y": {"field": "e", "type": "quantitative", "scale": {"domain": [0, 180], "nice": false}, "axis": {"values": [0, 40, 80, 120, 160], "title": "Energy (Arb. Unit)"}}},
  "layer": [
   {"transform": [{"filter": "datum.t != null"}], "mark": {"type": "line", "strokeWidth": 1.5, "clip": true}, "encoding": {"color": {"field": "t", "type": "nominal", "scale": {"domain": ["200", "150", "100", "50"], "range": ["#000000", "#303030", "#606060", "#9a9a9a"]}, "legend": null}}},
   {"transform": [{"filter": "datum.kind == 'title'"}], "mark": {"type": "text", "align": "left", "baseline": "middle"}, "encoding": {"text": {"field": "lab"}}},
   {"transform": [{"filter": "datum.kind == 'temp'"}], "mark": {"type": "text", "align": "center", "baseline": "middle"}, "encoding": {"text": {"field": "lab"}}}
  ]},
 {"width": 468, "height": 178, "transform": [{"filter": "datum.p == 'f'"}],
  "encoding": {"x": {"field": "w", "type": "quantitative", "scale": {"domain": [500, 4000], "reverse": true, "nice": false, "zero": false}, "axis": {"values": [4000, 3500, 3000, 2500, 2000, 1500, 1000, 500], "title": "Wave Numbers (cm-¹)", "format": "d", "titlePadding": 45}},
               "y": {"field": "e", "type": "quantitative", "scale": {"domain": [0, 180], "nice": false}, "axis": {"values": [0, 40, 80, 120, 160], "title": "Energy (Arb. Unit)"}}},
  "layer": [
   {"transform": [{"filter": "datum.t != null"}], "mark": {"type": "line", "strokeWidth": 1.5, "clip": true}, "encoding": {"color": {"field": "t", "type": "nominal", "scale": {"domain": ["200", "150", "100", "50"], "range": ["#000000", "#303030", "#606060", "#9a9a9a"]}, "legend": null}}},
   {"transform": [{"filter": "datum.kind == 'title'"}], "mark": {"type": "text", "align": "left", "baseline": "middle"}, "encoding": {"text": {"field": "lab"}}},
   {"transform": [{"filter": "datum.kind == 'temp'"}], "mark": {"type": "text", "align": "center", "baseline": "middle"}, "encoding": {"text": {"field": "lab"}}}
  ]}
],
"config": {
  "font": "Liberation Sans Narrow, DejaVu Sans Condensed, sans-serif",
  "view": {"stroke": "#000000", "strokeWidth": 1.5},
  "axis": {"domainColor": "#000000", "domainWidth": 1.5, "tickColor": "#000000", "tickWidth": 1.5,
           "labelColor": "#000000", "titleColor": "#000000", "labelFontSize": 21, "titleFontSize": 21,
           "titleFontWeight": "normal", "grid": false, "labelOverlap": false, "labelBound": false, "labelFlush": false,
           "labelFont": "Liberation Sans Narrow, DejaVu Sans Condensed, sans-serif",
           "titleFont": "Liberation Sans Narrow, DejaVu Sans Condensed, sans-serif"},
  "axisX": {"tickSize": 8, "labelPadding": 16, "titlePadding": 28},
  "axisY": {"tickSize": 6, "labelPadding": 14, "titlePadding": 22},
  "text": {"fontSize": 21, "font": "Liberation Sans Narrow, DejaVu Sans Condensed, sans-serif", "color": "#000000"}
}
}
